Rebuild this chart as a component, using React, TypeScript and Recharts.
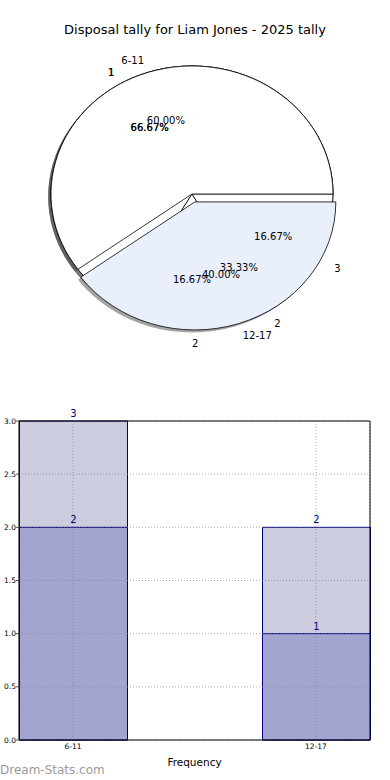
import React from 'react';
import { PieChart, Pie, BarChart, Bar, XAxis, YAxis, CartesianGrid, LabelList, ReferenceArea } from 'recharts';

const title = 'Disposal tally for Liam Jones - 2025 tally';

// pies, drawn bottom to top
const backNames = ['1', '2'];
const backValues = [2, 1];
const midNames = ['1', '2', '3'];
const midValues = [4, 1, 1];
const ageGroups = ['6-11', '12-17'];
const ageTally = [3, 2];

// bars
const barTotals = [3, 2];
const barInner = [2, 1];
const yTicks = [0, 0.5, 1, 1.5, 2, 2.5, 3];

const FONT = 'DejaVu Sans, Verdana, sans-serif';
const NAVY = '#000080';
const RAD = Math.PI / 180;
const SQUASH = 0.908; // pie is drawn slightly flattened
const CX = 192;
const CY = 194;
const R = 141;

type Layer = { id: string; rows: any[]; explode: number[]; shift: number[] };

const toRows = (names: string[], values: number[], fills: string[]) =>
  names.map((n, i) => ({ name: n, value: values[i], idx: i, fill: fills[i] }));

const layers: Layer[] = [
  { id: 'back', rows: toRows(backNames, backValues, ['#ffffff', '#ffffff']), explode: [0, 0], shift: [0, 0.065] },
  { id: 'mid', rows: toRows(midNames, midValues, ['#ffffff', '#ffffff', '#ffffff']), explode: [0, 0, 0], shift: [0, 0.065, 0.065] },
  { id: 'top', rows: toRows(ageGroups, ageTally, ['#ffffff', '#e9effb']), explode: [0, 0.065], shift: [0, 0.065] },
];

function wedgePath(cx: number, cy: number, rx: number, ry: number, a0: number, a1: number) {
  const x0 = cx + rx * Math.cos(a0 * RAD);
  const y0 = cy - ry * Math.sin(a0 * RAD);
  const x1 = cx + rx * Math.cos(a1 * RAD);
  const y1 = cy - ry * Math.sin(a1 * RAD);
  const large = Math.abs(a1 - a0) > 180 ? 1 : 0;
  return `M${cx},${cy}L${x0},${y0}A${rx},${ry} 0 ${large} 0 ${x1},${y1}Z`;
}

const makeShape = (layer: Layer, mode: 'shadow' | 'wedge' | 'none') => (props: any) => {
  if (mode === 'none') return <g />;
  const { cx, cy, outerRadius, startAngle, endAngle, payload } = props;
  const idx = payload?.idx ?? 0;
  const ry = outerRadius * SQUASH;
  const mid = (startAngle + endAngle) / 2;
  const e = layer.explode[idx] || 0;
  let ox = e * outerRadius * Math.cos(mid * RAD);
  let oy = -e * ry * Math.sin(mid * RAD);
  if (mode === 'shadow') {
    ox -= 2.8;
    oy += 2.6;
    return <path d={wedgePath(cx + ox, cy + oy, outerRadius, ry, startAngle, endAngle)} fill="#4a4a4c" fillOpacity={0.5} stroke="none" />;
  }
  return (
    <path
      d={wedgePath(cx + ox, cy + oy, outerRadius, ry, startAngle, endAngle)}
      fill={payload?.fill || '#fff'}
      stroke="#000"
      strokeWidth={0.8}
      strokeLinejoin="round"
    />
  );
};

const makeLabel = (layer: Layer) => (props: any) => {
  const { cx, cy, midAngle, outerRadius, percent, name, payload } = props;
  const idx = payload?.idx ?? 0;
  const ry = outerRadius * SQUASH;
  const s = layer.shift[idx] || 0;
  const c = Math.cos(midAngle * RAD);
  const sn = Math.sin(midAngle * RAD);
  const bx = cx + s * outerRadius * c;
  const by = cy - s * ry * sn;
  const anchor = c > -1e-6 ? 'start' : 'end';
  return (
    <g>
      <text x={bx + 1.1 * outerRadius * c} y={by - 1.1 * ry * sn} textAnchor={anchor} dominantBaseline="central" fontSize={10} fontFamily={FONT} fill="#000">
        {name}
      </text>
      <text x={bx + 0.6 * outerRadius * c} y={by - 0.6 * ry * sn} textAnchor="middle" dominantBaseline="central" fontSize={10} fontFamily={FONT} fill="#000">
        {(percent * 100).toFixed(2)}%
      </text>
    </g>
  );
};

function PiePart() {
  const common = { dataKey: 'value', nameKey: 'name', cx: CX, cy: CY, outerRadius: R, innerRadius: 0, startAngle: 0, endAngle: 360, isAnimationActive: false, labelLine: false };
  return (
    <PieChart width={390} height={390} margin={{ top: 0, right: 0, bottom: 0, left: 0 }}>
      {layers.map((l) => {
        const sh = makeShape(l, 'shadow');
        return <Pie key={`s-${l.id}`} {...common} data={l.rows} shape={sh} inactiveShape={sh} activeShape={sh} />;
      })}
      {layers.map((l) => {
        const sh = makeShape(l, 'wedge');
        return <Pie key={`w-${l.id}`} {...common} data={l.rows} shape={sh} inactiveShape={sh} activeShape={sh} />;
      })}
      {layers.map((l) => {
        const sh = makeShape(l, 'none');
        return <Pie key={`l-${l.id}`} {...common} data={l.rows} shape={sh} inactiveShape={sh} activeShape={sh} label={makeLabel(l)} />;
      })}
    </PieChart>
  );
}

const barRows = ageGroups.map((g, i) => ({ pos: i, name: g, total: barTotals[i], inner: barInner[i] }));
const X_DOMAIN: [number, number] = [-0.2222, 1.2222];

function BarPart() {
  const tickStyle = { fontSize: 7.5, fontFamily: FONT, fill: '#000' };
  return (
    <BarChart width={390} height={380} data={barRows} margin={{ top: 21, right: 20, bottom: 0, left: 0 }}>
      <XAxis
        xAxisId="a"
        type="number"
        dataKey="pos"
        domain={X_DOMAIN}
        ticks={[0, 1]}
        tickFormatter={(v: number) => ageGroups[v] ?? ''}
        tick={tickStyle}
        tickLine={false}
        tickSize={2}
        tickMargin={2}
        axisLine={false}
        height={40}
        label={{ value: 'Frequency', position: 'insideBottom', offset: 14, fontSize: 10.5, fontFamily: FONT, fill: '#000' }}
      />
      <XAxis xAxisId="b" type="number" dataKey="pos" domain={X_DOMAIN} hide />
      <YAxis
        width={19}
        type="number"
        domain={[0, 3]}
        ticks={yTicks}
        tickFormatter={(v: number) => v.toFixed(1)}
        tick={tickStyle}
        tickLine={{ stroke: '#555' }}
        tickSize={3}
        tickMargin={0}
        axisLine={false}
      />
      <Bar xAxisId="a" dataKey="total" fill="#ccccdf" stroke={NAVY} strokeWidth={1} barSize={108} isAnimationActive={false}>
        <LabelList dataKey="total" position="top" offset={4} fill={NAVY} fontSize={10} fontFamily={FONT} />
      </Bar>
      <Bar xAxisId="b" dataKey="inner" fill="#a3a4cf" stroke={NAVY} strokeWidth={1} barSize={108} isAnimationActive={false}>
        <LabelList dataKey="inner" position="top" offset={4} fill={NAVY} fontSize={10} fontFamily={FONT} />
      </Bar>
      <CartesianGrid xAxisId="a" stroke="#808080" strokeOpacity={0.65} strokeDasharray="1 2" strokeWidth={1} zIndex={350} />
      <ReferenceArea xAxisId="a" x1={X_DOMAIN[0]} x2={X_DOMAIN[1]} y1={0} y2={3} fill="none" stroke="#000" strokeWidth={1} ifOverflow="visible" zIndex={500} />
    </BarChart>
  );
}

export default function App() {
  return (
    <div style={{ position: 'absolute', left: 0, top: 0, width: 390, height: 780, overflow: 'hidden', background: '#fff', fontFamily: FONT }}>
      <div style={{ position: 'absolute', left: 0, top: 0 }}>
        <PiePart />
      </div>
      <div style={{ position: 'absolute', left: 0, top: 22, width: 390, textAlign: 'center', fontSize: 13, lineHeight: '16px', color: '#000' }}>
        {title}
      </div>
      <div style={{ position: 'absolute', left: 0, top: 400 }}>
        <BarPart />
      </div>
      <div style={{ position: 'absolute', left: 0, top: 762, fontSize: 12, lineHeight: '16px', color: '#9a9a9a' }}>
        Dream-Stats.com
      </div>
    </div>
  );
}
